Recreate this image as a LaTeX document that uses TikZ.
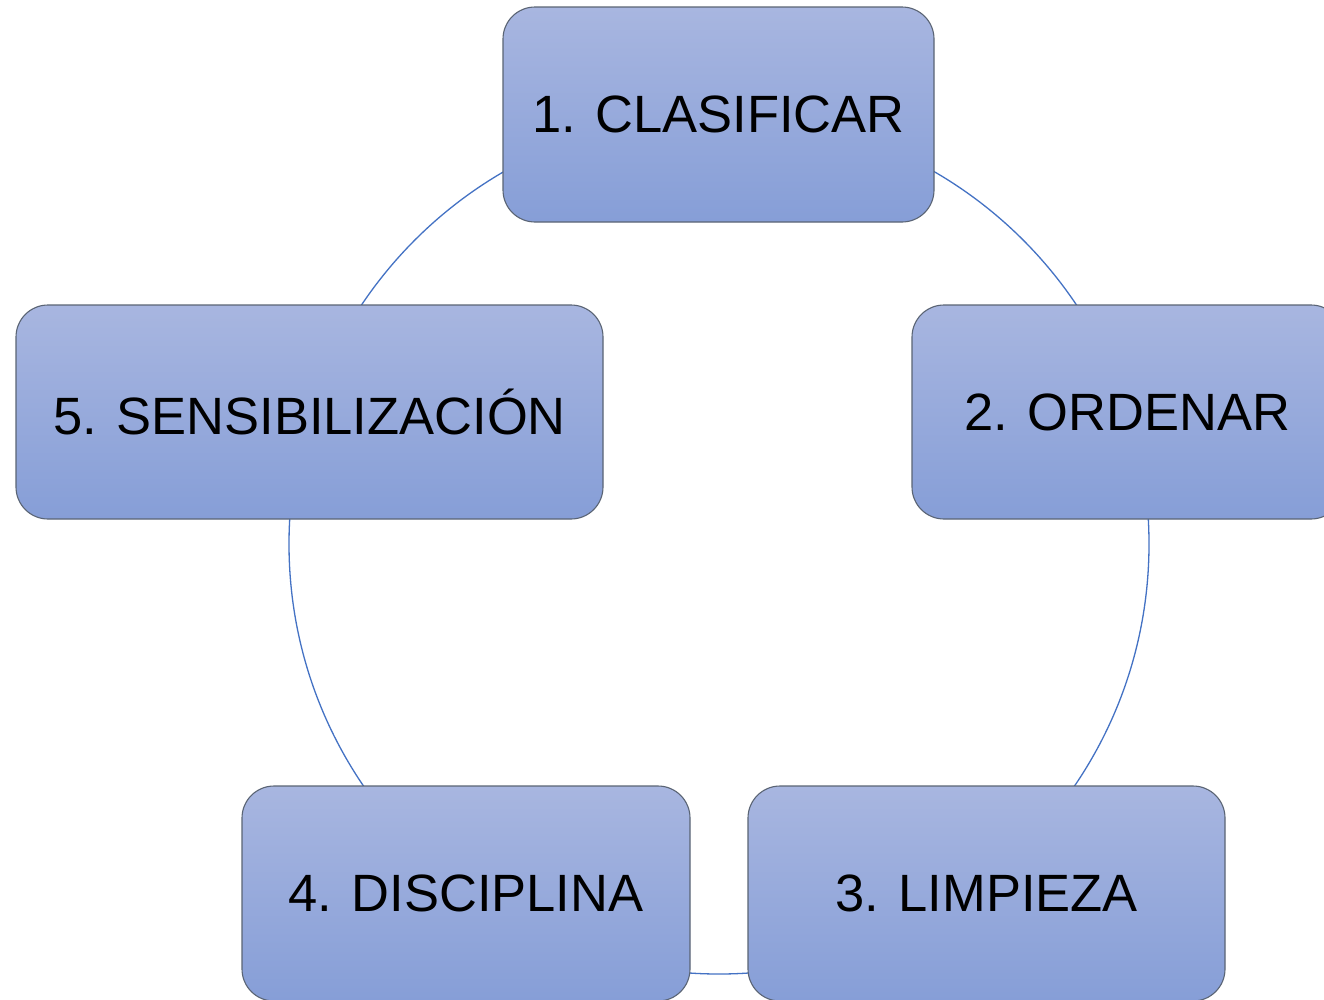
\documentclass[tikz,border=0pt]{standalone}
\usepackage{fontspec}
\setmainfont{Liberation Sans}
\definecolor{boxtop}{HTML}{A8B6E0}
\definecolor{boxbot}{HTML}{869ED7}
\definecolor{boxline}{HTML}{5A6474}
\definecolor{arcline}{HTML}{4472C4}
\tikzset{
  stepbox/.style={rounded corners=32pt, draw=boxline, line width=1.1pt,
    top color=boxtop, bottom color=boxbot, inner sep=0pt,
    font=\fontsize{52.5}{60}\selectfont, text=black},
  ringline/.style={draw=arcline, line width=1.3pt},
}
\begin{document}
\begin{tikzpicture}[x=1pt,y=-1pt]
\clip (0,0) rectangle (1324,999);
\fill[white] (0,0) rectangle (1324,999);
\coordinate (ringcenter) at (719,544);
\draw[ringline] (ringcenter) circle[radius=430pt];
\node[stepbox, minimum width=431pt, minimum height=215pt] (s1) at (718.5,114.5) {1. CLASIFICAR};
\node[stepbox, minimum width=431pt, minimum height=214pt] (s2) at (1127.5,412) {2. ORDENAR};
\node[stepbox, minimum width=477pt, minimum height=215pt] (s3) at (986.5,893.5) {3. LIMPIEZA};
\node[stepbox, minimum width=448pt, minimum height=215pt] (s4) at (466,893.5) {4. DISCIPLINA};
\node[stepbox, minimum width=587pt, minimum height=214pt] (s5) at (309.5,412) {5. SENSIBILIZACIÓN};
\end{tikzpicture}
\end{document}
